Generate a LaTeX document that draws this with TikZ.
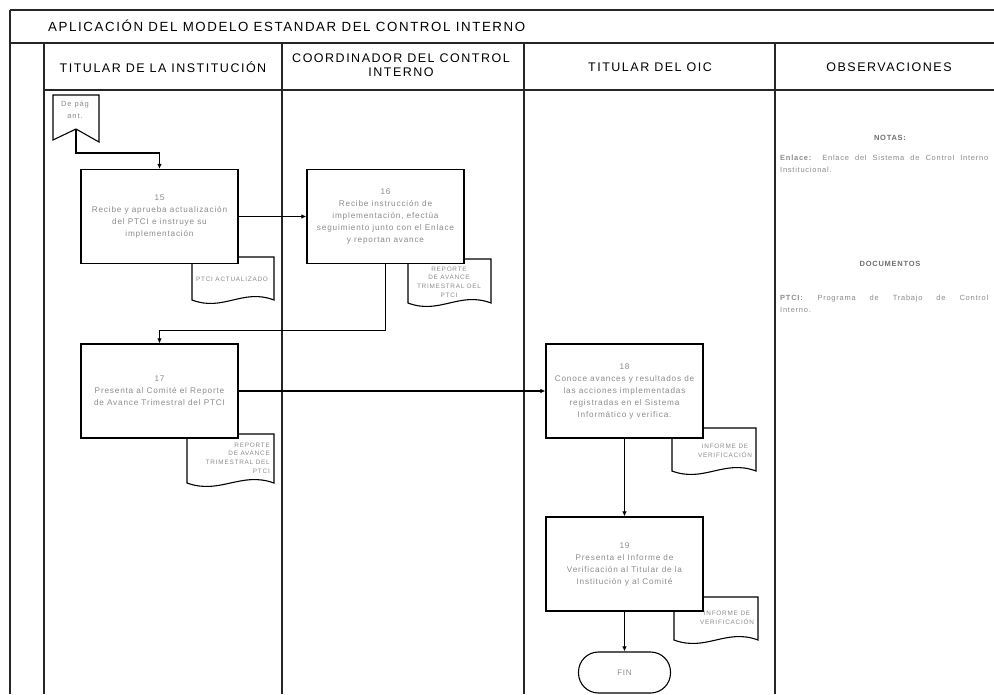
\documentclass[tikz,border=0pt]{standalone}
\usepackage{fontspec}
\setmainfont{Liberation Sans}
\newfontfamily\hdfont[LetterSpace=12]{Liberation Sans}
\newfontfamily\bxfont[LetterSpace=10]{Liberation Sans}
\newfontfamily\dcfont[LetterSpace=12]{Liberation Sans}
\usetikzlibrary{arrows.meta}
\definecolor{txtgray}{gray}{0.55}
\hyphenpenalty=10000
\exhyphenpenalty=10000
\tikzset{
  frame/.style={line width=1.3pt, black!85},
  hdr/.style={font={\hdfont\fontsize{12.5}{14.5}\selectfont}, align=center, inner sep=0pt},
  procbox/.style={draw, line width=1.1pt, fill=white, minimum width=157pt, minimum height=94pt,
    align=center, text=txtgray, font={\bxfont\fontsize{8.2}{12}\selectfont}, inner sep=0pt},
  doctext/.style={text=txtgray, font={\dcfont\fontsize{6.4}{8.8}\selectfont}, inner sep=0pt},
  docline/.style={draw, line width=1.1pt, fill=white},
  flow/.style={line width=1.1pt, -{Latex[length=5pt,width=4.5pt]}},
  obs/.style={text=txtgray, font={\bxfont\fontsize{7.5}{12}\selectfont}, inner sep=0pt},
  obshead/.style={text=txtgray!80!black, font={\bxfont\bfseries\fontsize{7.5}{12}\selectfont}, inner sep=0pt},
  termbox/.style={draw, line width=1.1pt, fill=white, minimum width=92pt, minimum height=41pt,
    rounded corners=20pt, text=txtgray, font={\bxfont\fontsize{8}{12}\selectfont}},
  offpage/.style={draw, line width=1.1pt, fill=white}
}
\newcommand\docshape[4]{%
  \path[docline] ({#1},{#3}) -- ({#2},{#3}) -- ({#2},{#4})
    .. controls ({#1+0.62*(#2-#1)},{#4-12}) and ({#1+0.38*(#2-#1)},{#4+12}) .. ({#1},{#4}) -- cycle;}
\begin{document}
\begin{tikzpicture}[x=1pt,y=-1pt]
\clip (0,0) rectangle (994,694);
\fill[white] (0,0) rectangle (994,694);

% frame
\draw[frame] (10,10) -- (994,10);
\draw[frame] (10,10) -- (10,694);
\draw[frame] (10,43) -- (994,43);
\draw[frame] (44,90) -- (994,90);
\draw[frame] (44,43) -- (44,694);
\draw[frame] (282,43) -- (282,694);
\draw[frame] (524,43) -- (524,694);
\draw[frame] (775,43) -- (775,694);

% titles
\node[hdr, anchor=west, font={\hdfont\fontsize{13.3}{15}\selectfont}] (title) at (48,26) {APLICACIÓN DEL MODELO ESTANDAR DEL CONTROL INTERNO};
\node[hdr] (h1) at (163,67) {TITULAR DE LA INSTITUCIÓN};
\node[hdr] (h2) at (401,65) {COORDINADOR DEL CONTROL\\INTERNO};
\node[hdr] (h3) at (650,67) {TITULAR DEL OIC};
\node[hdr] (h4) at (889,67) {OBSERVACIONES};

% off-page connector
\path[offpage] (53,95) -- (99,95) -- (99,142) -- (76,129) -- (53,140) -- cycle;
\coordinate (tip) at (76,129);
\node[doctext, align=center, font={\dcfont\fontsize{7.5}{12}\selectfont}] (opc) at (75,110) {De pág\\ant.};

% documents (drawn before the boxes)
\docshape{192}{274}{257}{300}
\node[doctext] (d15) at (232,279) {PTCI ACTUALIZADO};
\docshape{408}{491}{259}{303}
\node[doctext, align=center] (d16) at (449,282) {REPORTE\\DE AVANCE\\TRIMESTRAL DEL\\PTCI};
\docshape{187}{274}{434}{483}
\node[doctext, align=right, anchor=east] (d17) at (270,458) {REPORTE\\DE AVANCE\\TRIMESTRAL DEL\\PTCI};
\docshape{672}{756}{428}{471}
\node[doctext, align=center] (d18) at (725,451) {INFORME DE\\VERIFICACIÓN};
\docshape{674}{758}{597}{640}
\node[doctext, align=center] (d19) at (727,618) {INFORME DE\\VERIFICACIÓN};

% process boxes
\node[procbox] (b15) at (159.5,216.5) {15\\Recibe y aprueba actualización\\del PTCI e instruye su\\implementación};
\node[procbox] (b16) at (385.5,216.5) {16\\Recibe instrucción de\\implementación, efectúa\\seguimiento junto con el Enlace\\y reportan avance};
\node[procbox] (b17) at (159.5,391) {17\\Presenta al Comité el Reporte\\de Avance Trimestral del PTCI};
\node[procbox] (b18) at (624.5,391) {18\\Conoce avances y resultados de\\las acciones implementadas\\registradas en el Sistema\\Informático y verifica.};
\node[procbox] (b19) at (624.5,564) {19\\Presenta el Informe de\\Verificación al Titular de la\\Institución y al Comité};
\node[termbox] (fin) at (624.5,672.5) {FIN};

% connectors
\draw[flow] (tip) -- ++(0,24) -| (b15.north);
\draw[flow] (b15.east) -- (b16.west);
\draw[flow] (b16.south) -- ++(0,66) -| (b17.north);
\draw[flow] (b17.east) -- (b18.west);
\draw[flow] (b18.south) -- (b19.north);
\draw[flow] (b19.south) -- (fin.north);

% observations
\node[obshead] (notas) at (890,138) {NOTAS:};
\node[obs, anchor=north west, text width=208pt, align=justify] (enlace) at (780,155)
  {\textbf{Enlace:} Enlace del Sistema de Control Interno\linebreak Institucional.};
\node[obshead] (docs) at (890,264) {DOCUMENTOS};
\node[obs, anchor=north west, text width=208pt, align=justify] (ptci) at (780,295)
  {\textbf{PTCI:} Programa de Trabajo de Control\linebreak Interno.};
\end{tikzpicture}
\end{document}
